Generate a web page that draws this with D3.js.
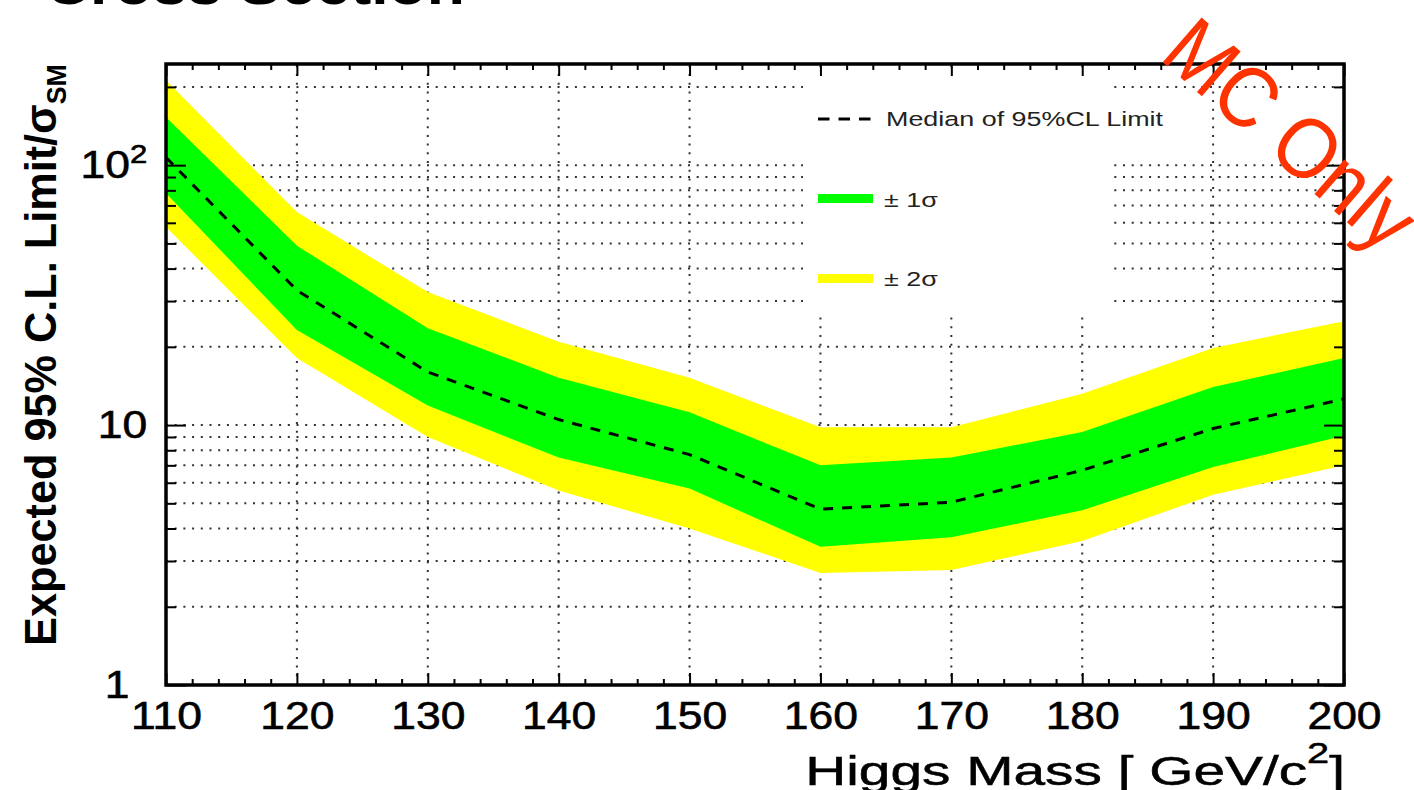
<!DOCTYPE html>
<head>
<meta charset="utf-8">
<title>Expected 95% CL limit</title>
<style>
    body {
        margin: 0;
        background: white;
    }

    text {
        font-family: "Liberation Sans", Arial, Helvetica, sans-serif;
    }

    .grid line {
        stroke: #333;
        stroke-width: 2;
        stroke-dasharray: 2, 6.7;
    }

    .ticks line {
        stroke: black;
        stroke-width: 2;
    }

    .legend text {
        font-size: 19.5px;
        fill: #222;
    }
</style>
</head>
<body>
<svg></svg>
<script src="https://cdn.jsdelivr.net/npm/d3@7"></script>
<script>

    // Higgs mass points and expected limit bands
    var mass = [110, 120, 130, 140, 150, 160, 170, 180, 190, 200];
    var median = [107, 33, 16.0, 10.5, 7.7, 4.75, 5.05, 6.7, 9.7, 12.6];
    var oneSigmaUp = [153, 49, 23.6, 15.2, 11.2, 7.0, 7.5, 9.4, 14.0, 18.1];
    var oneSigmaDown = [78, 23.2, 11.9, 7.5, 5.7, 3.4, 3.7, 4.7, 6.9, 9.1];
    var twoSigmaUp = [212, 66, 32.5, 20.9, 15.2, 9.8, 9.8, 13.2, 19.8, 25.1];
    var twoSigmaDown = [57.8, 18.1, 9.0, 5.6, 4.0, 2.7, 2.77, 3.58, 5.4, 7.0];

    var xTicks = [110, 120, 130, 140, 150, 160, 170, 180, 190, 200];
    var yTicks = [1, 10, 100];
    var yTickLabels = ["1", "10", "10|2"];
    var legendLabels = ["Median of 95%CL Limit", "\u00b1 1\u03c3", "\u00b1 2\u03c3"];

    var svg = d3.select("svg")
        .attr("width", 1414)
        .attr("height", 790);

    var frame = {left: 166, right: 1344, top: 64, bottom: 685};

    var x = d3.scaleLinear()
        .domain([110, 200])
        .range([frame.left, frame.right]);

    var y = d3.scaleLog()
        .domain([1, 245])
        .range([frame.bottom, frame.top]);

    // minor tick values
    var xMinor = d3.range(110, 201, 2).filter(function (v) {
        return v % 10 !== 0;
    });
    var yMinor = [];
    [1, 10, 100].forEach(function (dec) {
        for (var m = 2; m <= 9; m++) if (dec * m <= 245) yMinor.push(dec * m);
    });

    // stretch a text horizontally so that it covers the given width
    function fitWidth(sel, w) {
        var bb = sel.node().getBBox();
        return w / bb.width;
    }

    // ---- grid ----
    var grid = svg.append("g").attr("class", "grid");

    grid.selectAll(".gx")
        .data(xTicks.slice(1, -1))
        .enter().append("line")
        .attr("x1", function (d) { return x(d); })
        .attr("x2", function (d) { return x(d); })
        .attr("y1", frame.bottom)
        .attr("y2", frame.top);

    grid.selectAll(".gy")
        .data(yMinor.concat([10, 100]))
        .enter().append("line")
        .attr("x1", frame.left)
        .attr("x2", frame.right)
        .attr("y1", function (d) { return y(d); })
        .attr("y2", function (d) { return y(d); });

    // legend box hides the grid behind it
    svg.append("rect")
        .attr("x", 803)
        .attr("y", 70)
        .attr("width", 310)
        .attr("height", 246)
        .attr("fill", "white");

    // ---- bands ----
    var rows = mass.map(function (m, i) {
        return {
            mass: m,
            median: median[i],
            up1: oneSigmaUp[i], down1: oneSigmaDown[i],
            up2: twoSigmaUp[i], down2: twoSigmaDown[i]
        };
    });

    svg.append("path")
        .datum(rows)
        .attr("fill", "#ffff00")
        .attr("d", d3.area()
            .x(function (d) { return x(d.mass); })
            .y0(function (d) { return y(d.down2); })
            .y1(function (d) { return y(d.up2); }));

    svg.append("path")
        .datum(rows)
        .attr("fill", "#00ff00")
        .attr("d", d3.area()
            .x(function (d) { return x(d.mass); })
            .y0(function (d) { return y(d.down1); })
            .y1(function (d) { return y(d.up1); }));

    svg.append("path")
        .datum(rows)
        .attr("fill", "none")
        .attr("stroke", "black")
        .attr("stroke-width", 3)
        .attr("stroke-dasharray", "10,9")
        .attr("d", d3.line()
            .x(function (d) { return x(d.mass); })
            .y(function (d) { return y(d.median); }));

    // ---- ticks ----
    function ticks(axis, values, size, tr) {
        var g = svg.append("g")
            .attr("class", "ticks")
            .attr("transform", tr)
            .call(axis.tickValues(values).tickSize(size).tickFormat(""));
        g.select(".domain").remove();
        return g;
    }

    ticks(d3.axisBottom(x), xMinor, -6, "translate(0," + frame.bottom + ")");
    ticks(d3.axisBottom(x), xTicks, -12, "translate(0," + frame.bottom + ")");
    ticks(d3.axisTop(x), xMinor, -6, "translate(0," + frame.top + ")");
    ticks(d3.axisTop(x), xTicks, -12, "translate(0," + frame.top + ")");
    ticks(d3.axisLeft(y), yMinor, -10, "translate(" + frame.left + ",0)");
    ticks(d3.axisLeft(y), yTicks, -20, "translate(" + frame.left + ",0)");
    ticks(d3.axisRight(y), yMinor, -10, "translate(" + frame.right + ",0)");
    ticks(d3.axisRight(y), yTicks, -20, "translate(" + frame.right + ",0)");

    // frame
    svg.append("rect")
        .attr("x", frame.left)
        .attr("y", frame.top)
        .attr("width", frame.right - frame.left)
        .attr("height", frame.bottom - frame.top)
        .attr("fill", "none")
        .attr("stroke", "black")
        .attr("stroke-width", 3.5);

    // ---- tick labels ----
    var xLab = svg.append("g")
        .attr("transform", "translate(0," + frame.bottom + ")")
        .call(d3.axisBottom(x).tickValues(xTicks).tickSize(0).tickPadding(17));
    xLab.select(".domain").remove();
    xLab.attr("font-size", 38).attr("font-family", null);
    xLab.selectAll("text")
        .attr("fill", "black")
        .attr("stroke", "black")
        .attr("stroke-width", 0.6)
        .attr("transform", "scale(1.17,1)");

    var yLab = svg.append("g")
        .attr("transform", "translate(" + frame.left + ",0)")
        .call(d3.axisLeft(y).tickValues(yTicks).tickSize(0).tickPadding(16)
            .tickFormat(function (d, i) { return yTickLabels[i]; }));
    yLab.select(".domain").remove();
    yLab.attr("font-size", 38).attr("font-family", null);
    yLab.selectAll("text")
        .attr("fill", "black")
        .attr("stroke", "black")
        .attr("stroke-width", 0.6)
        .attr("transform", "scale(1.17,1)")
        .attr("dx", function (d) { return d === 1 ? "-0.4em" : null; })
        .each(function () {
            var t = d3.select(this), parts = t.text().split("|");
            if (parts.length > 1) {
                t.text(parts[0]);
                t.append("tspan")
                    .attr("dy", "-0.55em")
                    .attr("font-size", "0.7em")
                    .text(parts[1]);
            }
        });

    // ---- axis titles ----
    var xTitle = svg.append("text")
        .attr("text-anchor", "end")
        .attr("font-size", 41)
        .attr("stroke", "black")
        .attr("stroke-width", 0.5);
    xTitle.append("tspan").text("Higgs Mass [ GeV/c");
    xTitle.append("tspan").attr("font-size", "0.7em").attr("dy", "-0.75em").text("2");
    xTitle.append("tspan").attr("dy", "0.52em").text("]");
    xTitle.attr("transform", "translate(1345,785) scale(" + fitWidth(xTitle, 540) + ",1)");

    var yTitle = svg.append("text")
        .attr("text-anchor", "middle")
        .attr("font-size", 44)
        .attr("font-weight", "bold");
    yTitle.append("tspan").text("Expected 95% C.L. Limit/\u03c3");
    yTitle.append("tspan").attr("font-size", "0.62em").attr("dy", "0.35em").text("SM");
    yTitle.attr("transform", "translate(56,355) rotate(-90) scale(" + fitWidth(yTitle, 582) + ",1)");

    // cut-off title at the top
    var title = svg.append("text")
        .attr("font-size", 56)
        .attr("font-weight", "bold")
        .text("Cross Section");
    title.attr("transform", "translate(45,4) scale(" + fitWidth(title, 420) + ",1)");

    // ---- legend ----
    var legend = svg.append("g").attr("class", "legend");

    legend.append("line")
        .attr("x1", 818).attr("x2", 873)
        .attr("y1", 119).attr("y2", 119)
        .attr("stroke", "black")
        .attr("stroke-width", 3)
        .attr("stroke-dasharray", "11.5,9");

    legend.append("rect")
        .attr("x", 818).attr("y", 194)
        .attr("width", 55).attr("height", 9)
        .attr("fill", "#00ff00");

    legend.append("rect")
        .attr("x", 818).attr("y", 274)
        .attr("width", 55).attr("height", 9)
        .attr("fill", "#ffff00");

    var legendY = [126, 207, 286];
    var legendX = [886, 884, 884];
    var sx = 1.38;
    legend.selectAll(".entry")
        .data(legendLabels)
        .enter().append("text")
        .attr("transform", function (d, i) {
            return "translate(" + legendX[i] + "," + legendY[i] + ") scale(" + sx + ",1)";
        })
        .text(function (d) { return d; });

    // ---- watermark ----
    svg.append("text")
        .attr("transform", "translate(1158,58) rotate(41) scale(0.9,1)")
        .attr("font-size", 86)
        .attr("fill", "#ff3300")
        .text("MC Only");

</script>
</body>
